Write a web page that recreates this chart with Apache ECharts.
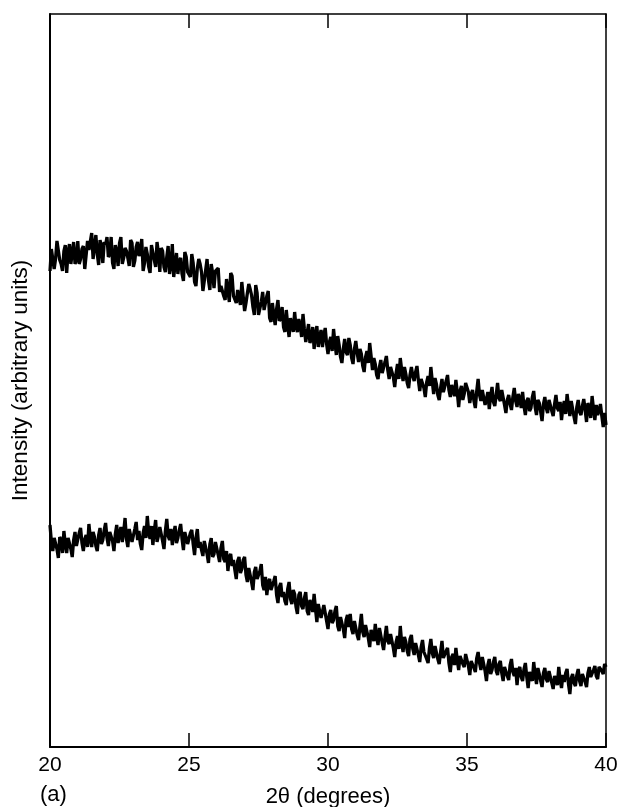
<!DOCTYPE html>
<html>
<head>
<meta charset="utf-8">
<script src="https://cdn.jsdelivr.net/npm/echarts@6/dist/echarts.min.js"></script>
<style>
  html, body { margin: 0; padding: 0; background: #fff; }
  #xrdChart { width: 617px; height: 807px; }
</style>
</head>
<body>
<div id="xrdChart"></div>
<script>
// scan grid: 20 -> 40 deg, step 0.05
const startAngle = 20;
const stepAngle = 0.05;
const xTicks = [20, 25, 30, 35, 40];

// upper pattern (arbitrary units)
const upperCounts = [
  476, 498, 499, 478, 488, 506, 507, 487, 483, 476, 496, 502, 474, 495, 503, 483, 494, 505, 483, 487,
  506, 483, 488, 498, 501, 478, 479, 506, 497, 495, 514, 488, 486, 512, 493, 482, 507, 501, 484, 505,
  502, 510, 490, 493, 510, 484, 478, 502, 496, 481, 504, 510, 483, 489, 499, 496, 489, 481, 507, 504,
  480, 486, 500, 505, 491, 496, 508, 476, 484, 500, 493, 480, 474, 502, 501, 487, 480, 505, 494, 475,
  499, 496, 480, 475, 490, 501, 473, 482, 503, 470, 482, 494, 473, 486, 489, 473, 466, 495, 490, 475,
  475, 470, 493, 484, 465, 461, 479, 488, 483, 475, 456, 466, 477, 488, 467, 457, 483, 474, 459, 476,
  477, 479, 455, 461, 463, 451, 447, 468, 467, 445, 474, 471, 451, 452, 444, 457, 459, 442, 465, 463,
  436, 444, 454, 463, 458, 452, 440, 432, 462, 454, 432, 434, 445, 455, 437, 439, 451, 456, 429, 425,
  444, 432, 422, 438, 447, 426, 429, 440, 420, 415, 437, 422, 410, 429, 430, 415, 435, 420, 415, 428,
  422, 410, 433, 418, 405, 414, 423, 404, 408, 420, 398, 412, 421, 400, 410, 417, 400, 412, 419, 403,
  393, 405, 410, 396, 418, 404, 392, 411, 402, 390, 384, 398, 408, 395, 392, 409, 402, 389, 383, 398,
  406, 394, 385, 398, 393, 381, 375, 390, 396, 384, 404, 391, 377, 389, 383, 372, 368, 380, 387, 374,
  376, 385, 391, 377, 368, 380, 382, 370, 360, 374, 383, 368, 389, 377, 366, 380, 373, 364, 359, 372,
  380, 371, 366, 375, 381, 367, 356, 368, 370, 359, 350, 365, 371, 361, 380, 366, 353, 369, 363, 352,
  347, 359, 368, 355, 354, 366, 372, 357, 350, 362, 360, 351, 367, 355, 340, 356, 361, 347, 353, 364,
  366, 355, 344, 353, 357, 346, 339, 356, 368, 352, 346, 357, 359, 342, 348, 355, 338, 351, 360, 345,
  341, 352, 364, 349, 346, 357, 355, 342, 334, 347, 352, 343, 337, 350, 359, 346, 340, 353, 348, 339,
  355, 341, 332, 346, 349, 336, 339, 350, 356, 340, 332, 347, 344, 335, 326, 343, 350, 339, 334, 347,
  345, 336, 331, 343, 352, 339, 336, 345, 327, 340, 346, 333, 353, 341, 331, 346, 338, 330, 323, 340,
  347, 335, 332, 341, 348, 337, 325, 344, 339, 329, 351, 338, 327, 342, 332, 337, 343, 331, 320, 334,
  322
];

// lower pattern (arbitrary units)
const lowerCounts = [
  222, 205, 196, 209, 211, 198, 189, 210, 207, 194, 216, 203, 194, 209, 211, 198, 190, 207, 215, 201,
  202, 214, 219, 204, 196, 208, 212, 200, 223, 209, 200, 215, 210, 201, 196, 212, 219, 203, 207, 217,
  224, 209, 201, 215, 217, 206, 196, 213, 222, 204, 213, 220, 205, 215, 229, 208, 200, 218, 217, 205,
  203, 218, 225, 207, 216, 203, 197, 214, 221, 209, 231, 214, 208, 221, 202, 216, 227, 205, 211, 220,
  220, 206, 198, 216, 228, 211, 207, 218, 202, 213, 221, 204, 209, 217, 223, 208, 197, 215, 214, 203,
  202, 214, 217, 203, 192, 209, 218, 199, 205, 197, 191, 206, 208, 193, 184, 203, 209, 190, 193, 205,
  206, 192, 185, 199, 206, 188, 185, 196, 176, 190, 193, 181, 187, 177, 168, 186, 190, 174, 178, 187,
  190, 172, 165, 179, 178, 165, 157, 175, 180, 168, 166, 176, 183, 162, 157, 170, 152, 165, 168, 157,
  155, 166, 171, 152, 144, 160, 164, 150, 155, 146, 142, 158, 165, 148, 143, 157, 153, 140, 133, 152,
  155, 141, 138, 149, 155, 136, 132, 147, 142, 135, 153, 138, 125, 143, 141, 129, 130, 142, 143, 126,
  118, 133, 137, 124, 127, 136, 141, 121, 116, 130, 129, 118, 109, 127, 132, 120, 133, 118, 113, 126,
  124, 112, 107, 121, 133, 115, 110, 122, 124, 109, 100, 117, 115, 106, 123, 110, 102, 119, 117, 104,
  97, 110, 121, 106, 103, 113, 114, 99, 90, 105, 111, 98, 121, 104, 95, 110, 105, 96, 91, 108,
  112, 98, 92, 104, 103, 92, 85, 100, 107, 95, 94, 88, 84, 99, 108, 94, 89, 101, 100, 88,
  83, 95, 106, 89, 88, 96, 99, 84, 75, 90, 93, 82, 99, 87, 77, 91, 92, 83, 80, 93,
  95, 81, 72, 86, 87, 79, 75, 89, 95, 84, 77, 90, 88, 76, 66, 82, 88, 73, 77, 85,
  90, 76, 72, 83, 86, 74, 66, 80, 80, 71, 67, 82, 88, 75, 71, 79, 62, 77, 80, 70,
  66, 78, 84, 70, 59, 75, 77, 66, 85, 72, 63, 79, 73, 66, 60, 74, 79, 68, 65, 76,
  77, 64, 58, 71, 73, 62, 80, 67, 59, 72, 65, 74, 78, 63, 53, 69, 73, 64, 61, 72,
  78, 66, 61, 73, 72, 65, 60, 74, 80, 70, 68, 77, 81, 71, 68, 80, 82, 76, 73, 83,
  80
];

function toPairs(counts) {
  return counts.map((v, i) => [+(startAngle + i * stepAngle).toFixed(2), v]);
}

const chart = echarts.init(document.getElementById('xrdChart'));
const fontFamily = 'Liberation Sans, Arial, sans-serif';

const option = {
  animation: false,
  backgroundColor: '#fff',
  textStyle: { fontFamily: fontFamily, color: '#000' },
  grid: { left: 50, right: 11, top: 14, bottom: 60, outerBoundsMode: 'none', containLabel: false },
  xAxis: [
    {
      type: 'value',
      min: 20,
      max: 40,
      interval: 5,
      position: 'bottom',
      name: '2θ (degrees)',
      nameLocation: 'middle',
      nameGap: 39,
      nameTextStyle: { fontSize: 22, color: '#000', fontFamily: fontFamily },
      axisLine: { show: true, onZero: false, lineStyle: { color: '#000', width: 2 } },
      axisTick: { show: true, inside: true, length: 14, lineStyle: { color: '#000', width: 1.5 } },
      axisLabel: { fontSize: 21, color: '#000', margin: 8,
        formatter: v => xTicks.includes(v) ? String(v) : '' },
      splitLine: { show: false }
    },
    {
      type: 'value',
      min: 20,
      max: 40,
      interval: 5,
      position: 'top',
      axisLine: { show: true, onZero: false, lineStyle: { color: '#000', width: 1.5 } },
      axisTick: { show: true, inside: true, length: 14, lineStyle: { color: '#000', width: 1.5 } },
      axisLabel: { show: false },
      splitLine: { show: false }
    }
  ],
  yAxis: [
    {
      type: 'value',
      min: 0,
      max: 733,
      position: 'left',
      name: 'Intensity (arbitrary units)',
      nameLocation: 'middle',
      nameGap: 18,
      nameTextStyle: { fontSize: 22.5, color: '#000', fontFamily: fontFamily },
      axisLine: { show: true, onZero: false, lineStyle: { color: '#000', width: 2 } },
      axisTick: { show: false },
      axisLabel: { show: false },
      splitLine: { show: false }
    },
    {
      type: 'value',
      min: 0,
      max: 733,
      position: 'right',
      axisLine: { show: true, onZero: false, lineStyle: { color: '#000', width: 1.5 } },
      axisTick: { show: false },
      axisLabel: { show: false },
      splitLine: { show: false }
    }
  ],
  graphic: [
    {
      type: 'text',
      left: 40,
      top: 784,
      style: { text: '(a)', fontSize: 22, fill: '#000', fontFamily: fontFamily }
    }
  ],
  series: [
    {
      name: 'upper',
      type: 'line',
      showSymbol: false,
      data: toPairs(upperCounts),
      lineStyle: { color: '#000', width: 3.3 },
      z: 3
    },
    {
      name: 'lower',
      type: 'line',
      showSymbol: false,
      data: toPairs(lowerCounts),
      lineStyle: { color: '#000', width: 3.3 },
      z: 3
    }
  ]
};

chart.setOption(option);
</script>
</body>
</html>
